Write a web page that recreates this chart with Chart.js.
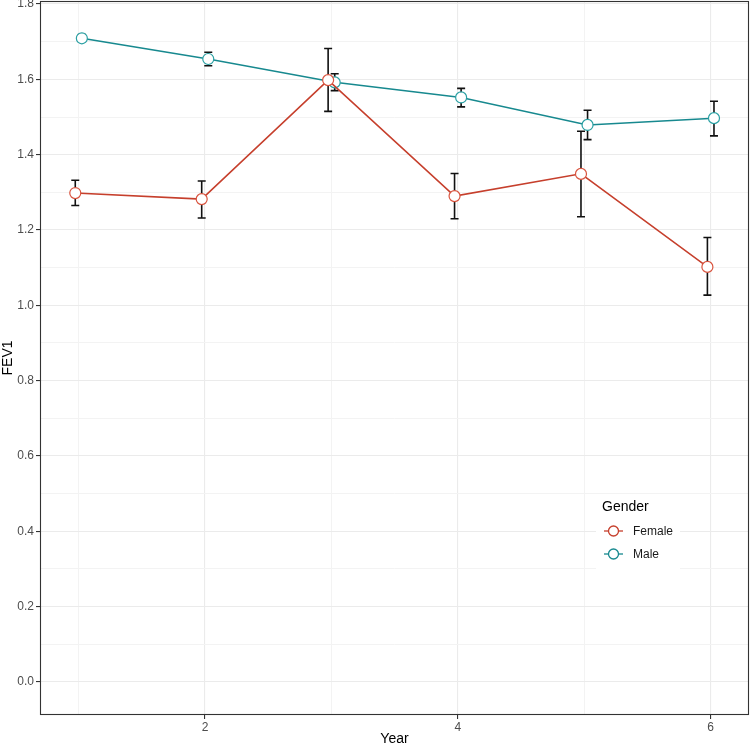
<!DOCTYPE html>
<html>
<head>
<meta charset="utf-8">
<script src="https://cdn.jsdelivr.net/npm/chart.js@4.4.1/dist/chart.umd.min.js"></script>
<style>
  html, body { margin: 0; padding: 0; background: #fff; }
  #wrap { width: 750px; height: 748px; }
</style>
</head>
<body>
<div id="wrap"><canvas id="fevChart" width="750" height="748"></canvas></div>
<script>
// FEV1 by year and gender (mean with error bars)
const years = [1, 2, 3, 4, 5, 6]
const femaleMean = [1.298, 1.282, 1.598, 1.290, 1.349, 1.102]
const femaleLow = [1.265, 1.232, 1.515, 1.230, 1.235, 1.027]
const femaleHigh = [1.332, 1.330, 1.682, 1.350, 1.462, 1.180]
const maleMean = [1.709, 1.654, 1.592, 1.552, 1.479, 1.497]
const maleLow = [1.700, 1.636, 1.570, 1.527, 1.440, 1.450]
const maleHigh = [1.719, 1.672, 1.615, 1.576, 1.518, 1.542]
const yTicks = [0, 0.2, 0.4, 0.6, 0.8, 1.0, 1.2, 1.4, 1.6, 1.8]
const xTicks = [2, 4, 6]

const FEMALE = '#c63f2c'
const MALE = '#17898f'
const dodge = 0.026

const toPoints = (means, lo, hi, shift) =>
	years.map((yr, i) => ({ x: yr + shift, y: means[i], lo: lo[i], hi: hi[i] }))

const femalePts = toPoints(femaleMean, femaleLow, femaleHigh, -dodge)
const malePts = toPoints(maleMean, maleLow, maleHigh, dodge)

const isMajor = (list, v) => list.some(t => Math.abs(t - v) < 1e-6)

// error bars under the lines/points
const errorBars = {
	id: 'errorBars',
	beforeDatasetsDraw(chart) {
		const { ctx, scales: { x, y } } = chart
		ctx.save()
		ctx.strokeStyle = '#111'
		ctx.lineWidth = 1.6
		chart.data.datasets.forEach(ds => {
			ds.data.forEach(p => {
				const px = x.getPixelForValue(p.x)
				const top = y.getPixelForValue(p.hi)
				const bot = y.getPixelForValue(p.lo)
				ctx.beginPath()
				ctx.moveTo(px, top); ctx.lineTo(px, bot)
				ctx.moveTo(px - 4, top); ctx.lineTo(px + 4, top)
				ctx.moveTo(px - 4, bot); ctx.lineTo(px + 4, bot)
				ctx.stroke()
			})
		})
		ctx.restore()
	},
}

// panel border + legend box inside the panel
const panelExtras = {
	id: 'panelExtras',
	afterDraw(chart) {
		const { ctx, chartArea: a } = chart
		ctx.save()
		ctx.strokeStyle = '#333333'
		ctx.lineWidth = 1.1
		ctx.strokeRect(a.left + 0.5, a.top + 0.5, a.right - a.left - 1, a.bottom - a.top - 1)

		// legend
		const lx = 596, ly = 494
		ctx.fillStyle = '#fff'
		ctx.fillRect(lx, ly, 84, 76)
		ctx.fillStyle = '#000'
		ctx.font = '14px "Liberation Sans", Arial, sans-serif'
		ctx.textBaseline = 'alphabetic'
		ctx.fillText('Gender', lx + 6, ly + 17)
		const items = [['Female', FEMALE], ['Male', MALE]]
		ctx.font = '12px "Liberation Sans", Arial, sans-serif'
		items.forEach(([name, col], i) => {
			const cy = ly + 37 + i * 23
			ctx.strokeStyle = col
			ctx.lineWidth = 1.3
			ctx.beginPath()
			ctx.moveTo(lx + 8, cy); ctx.lineTo(lx + 27, cy)
			ctx.stroke()
			ctx.beginPath()
			ctx.arc(lx + 17.5, cy, 5, 0, Math.PI * 2)
			ctx.fillStyle = '#fff'
			ctx.fill()
			ctx.stroke()
			ctx.fillStyle = '#1a1a1a'
			ctx.textBaseline = 'middle'
			ctx.fillText(name, lx + 37, cy + 1)
		})
		ctx.restore()
	},
}

const ctx = document.getElementById('fevChart').getContext('2d')
const fevChart = new Chart(ctx, {
	type: 'line',
	data: {
		datasets: [
			{
				label: 'Female',
				data: femalePts,
				borderColor: FEMALE,
				borderWidth: 1.5,
				pointBackgroundColor: '#fff',
				pointBorderColor: '#d9543f',
				pointBorderWidth: 1.2,
				pointRadius: 5.5,
				tension: 0,
			},
			{
				label: 'Male',
				data: malePts,
				borderColor: MALE,
				borderWidth: 1.5,
				pointBackgroundColor: '#fff',
				pointBorderColor: '#2aa0a3',
				pointBorderWidth: 1.2,
				pointRadius: 5.5,
				tension: 0,
			},
		],
	},
	options: {
		responsive: false,
		animation: false,
		parsing: { xAxisKey: 'x', yAxisKey: 'y' },
		layout: { autoPadding: false, padding: { top: 1, right: 1, left: 0, bottom: 0 } },
		plugins: {
			legend: { display: false },
			tooltip: { enabled: false },
		},
		scales: {
			x: {
				type: 'linear',
				min: 0.695,
				max: 6.303,
				afterBuildTicks(scale) {
					scale.ticks = [1, 2, 3, 4, 5, 6].map(v => ({ value: v }))
				},
				afterFit(scale) {
					scale.height = 33
					scale.paddingLeft = 0
					scale.paddingRight = 0
				},
				border: { display: false },
				grid: {
					color: c => isMajor(xTicks, c.tick.value) ? '#ebebeb' : '#f3f3f3',
					lineWidth: c => isMajor(xTicks, c.tick.value) ? 1.1 : 1,
					tickColor: c => isMajor(xTicks, c.tick.value) ? '#333' : 'rgba(0,0,0,0)',
					tickLength: 4,
				},
				ticks: {
					autoSkip: false,
					maxRotation: 0,
					padding: 1,
					color: '#4d4d4d',
					font: { size: 12, family: '"Liberation Sans", Arial' },
					callback: v => isMajor(xTicks, v) ? String(v) : '',
				},
				title: {
					display: true,
					text: 'Year',
					color: '#000',
					font: { size: 14, family: '"Liberation Sans", Arial' },
					padding: { top: 0, bottom: 0 },
				},
			},
			y: {
				type: 'linear',
				min: -0.0877,
				max: 1.808,
				afterBuildTicks(scale) {
					const t = []
					for (let i = 0; i <= 18; i++) t.push({ value: Math.round(i * 10) / 100 })
					scale.ticks = t
				},
				afterFit(scale) {
					scale.width = 40
					scale.paddingTop = 0
					scale.paddingBottom = 0
				},
				border: { display: false },
				grid: {
					color: c => isMajor(yTicks, c.tick.value) ? '#ebebeb' : '#f3f3f3',
					lineWidth: c => isMajor(yTicks, c.tick.value) ? 1.1 : 1,
					tickColor: c => isMajor(yTicks, c.tick.value) ? '#333' : 'rgba(0,0,0,0)',
					tickLength: 4,
				},
				ticks: {
					autoSkip: false,
					padding: 2,
					color: '#4d4d4d',
					font: { size: 12, family: '"Liberation Sans", Arial' },
					callback: v => isMajor(yTicks, v) ? v.toFixed(1) : '',
				},
				title: {
					display: true,
					text: 'FEV1',
					color: '#000',
					font: { size: 14, family: '"Liberation Sans", Arial' },
					padding: { top: 0, bottom: 0 },
				},
			},
		},
	},
	plugins: [errorBars, panelExtras],
})
</script>
</body>
</html>
